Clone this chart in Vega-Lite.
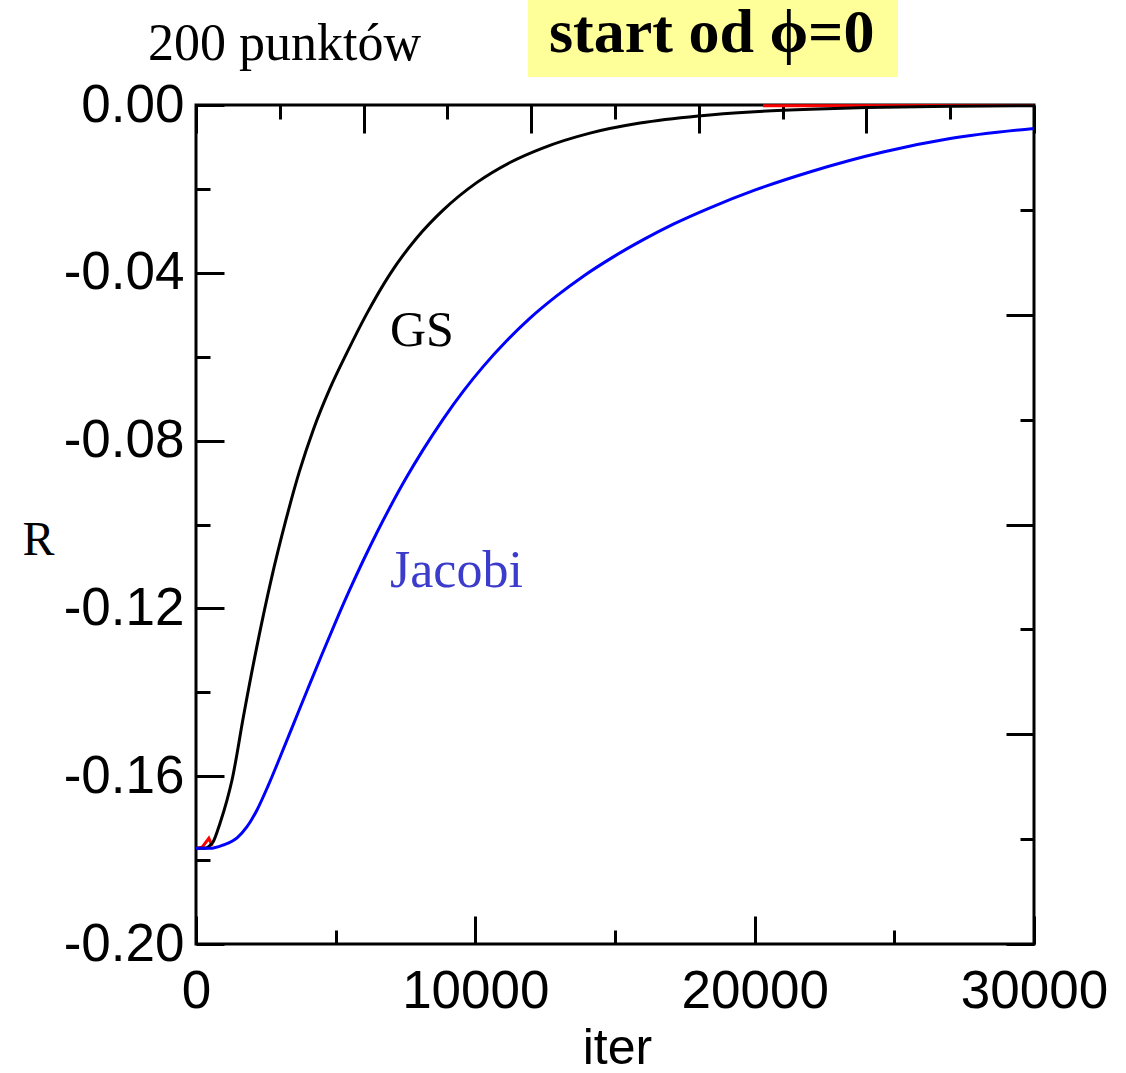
{
  "$schema": "https://vega.github.io/schema/vega-lite/v6.json",
  "width": 838,
  "height": 839,
  "autosize": {"type": "none"},
  "padding": {"left": 196, "top": 105, "right": 92, "bottom": 129},
  "background": "white",
  "config": {
    "view": {"stroke": "black", "strokeWidth": 3},
    "axis": {"grid": false, "domain": false, "tickColor": "black", "tickWidth": 3, "labelColor": "black", "titleColor": "black"}
  },
  "datasets": {
    "curves": [
      {"series": "GS", "seg": "a", "iter": 0, "R": -0.1772},
      {"series": "GS", "seg": "a", "iter": 300, "R": -0.1772},
      {"series": "GS", "seg": "a", "iter": 450, "R": -0.1768},
      {"series": "GS", "seg": "a", "iter": 610, "R": -0.1757},
      {"series": "GS", "seg": "a", "iter": 860, "R": -0.1712},
      {"series": "GS", "seg": "a", "iter": 1110, "R": -0.1657},
      {"series": "GS", "seg": "a", "iter": 1290, "R": -0.1609},
      {"series": "GS", "seg": "a", "iter": 1700, "R": -0.1457},
      {"series": "GS", "seg": "a", "iter": 2200, "R": -0.1284},
      {"series": "GS", "seg": "a", "iter": 2700, "R": -0.1129},
      {"series": "GS", "seg": "a", "iter": 3200, "R": -0.0994},
      {"series": "GS", "seg": "a", "iter": 3700, "R": -0.0874},
      {"series": "GS", "seg": "a", "iter": 4200, "R": -0.0774},
      {"series": "GS", "seg": "a", "iter": 4800, "R": -0.0675},
      {"series": "GS", "seg": "a", "iter": 5400, "R": -0.0591},
      {"series": "GS", "seg": "a", "iter": 6110, "R": -0.0498},
      {"series": "GS", "seg": "a", "iter": 6945, "R": -0.0403},
      {"series": "GS", "seg": "a", "iter": 7900, "R": -0.0317},
      {"series": "GS", "seg": "a", "iter": 8855, "R": -0.0250},
      {"series": "GS", "seg": "a", "iter": 10048, "R": -0.0185},
      {"series": "GS", "seg": "a", "iter": 11241, "R": -0.0137},
      {"series": "GS", "seg": "a", "iter": 12434, "R": -0.0102},
      {"series": "GS", "seg": "a", "iter": 14105, "R": -0.0067},
      {"series": "GS", "seg": "a", "iter": 15895, "R": -0.0043},
      {"series": "GS", "seg": "a", "iter": 17982, "R": -0.0026},
      {"series": "GS", "seg": "a", "iter": 20000, "R": -0.0016},
      {"series": "GS", "seg": "a", "iter": 22000, "R": -0.0010},
      {"series": "GS", "seg": "a", "iter": 24000, "R": -0.0006},
      {"series": "GS", "seg": "a", "iter": 27000, "R": -0.0003},
      {"series": "GS", "seg": "a", "iter": 30000, "R": -0.00015},

      {"series": "Jacobi", "seg": "a", "iter": 0, "R": -0.1772},
      {"series": "Jacobi", "seg": "a", "iter": 500, "R": -0.1772},
      {"series": "Jacobi", "seg": "a", "iter": 970, "R": -0.1764},
      {"series": "Jacobi", "seg": "a", "iter": 1470, "R": -0.1747},
      {"series": "Jacobi", "seg": "a", "iter": 1820, "R": -0.1721},
      {"series": "Jacobi", "seg": "a", "iter": 2180, "R": -0.1681},
      {"series": "Jacobi", "seg": "a", "iter": 2580, "R": -0.1623},
      {"series": "Jacobi", "seg": "a", "iter": 3000, "R": -0.1556},
      {"series": "Jacobi", "seg": "a", "iter": 3500, "R": -0.1474},
      {"series": "Jacobi", "seg": "a", "iter": 4000, "R": -0.1392},
      {"series": "Jacobi", "seg": "a", "iter": 4500, "R": -0.1311},
      {"series": "Jacobi", "seg": "a", "iter": 5000, "R": -0.1232},
      {"series": "Jacobi", "seg": "a", "iter": 5500, "R": -0.1156},
      {"series": "Jacobi", "seg": "a", "iter": 6000, "R": -0.1084},
      {"series": "Jacobi", "seg": "a", "iter": 6500, "R": -0.1016},
      {"series": "Jacobi", "seg": "a", "iter": 6945, "R": -0.0959},
      {"series": "Jacobi", "seg": "a", "iter": 7542, "R": -0.0887},
      {"series": "Jacobi", "seg": "a", "iter": 8139, "R": -0.0821},
      {"series": "Jacobi", "seg": "a", "iter": 8855, "R": -0.0748},
      {"series": "Jacobi", "seg": "a", "iter": 9571, "R": -0.0682},
      {"series": "Jacobi", "seg": "a", "iter": 10287, "R": -0.0623},
      {"series": "Jacobi", "seg": "a", "iter": 11122, "R": -0.0562},
      {"series": "Jacobi", "seg": "a", "iter": 11958, "R": -0.0508},
      {"series": "Jacobi", "seg": "a", "iter": 12912, "R": -0.0455},
      {"series": "Jacobi", "seg": "a", "iter": 13867, "R": -0.0408},
      {"series": "Jacobi", "seg": "a", "iter": 14941, "R": -0.0362},
      {"series": "Jacobi", "seg": "a", "iter": 16015, "R": -0.0321},
      {"series": "Jacobi", "seg": "a", "iter": 17089, "R": -0.0284},
      {"series": "Jacobi", "seg": "a", "iter": 18400, "R": -0.0245},
      {"series": "Jacobi", "seg": "a", "iter": 20000, "R": -0.0203},
      {"series": "Jacobi", "seg": "a", "iter": 22000, "R": -0.0159},
      {"series": "Jacobi", "seg": "a", "iter": 24600, "R": -0.0112},
      {"series": "Jacobi", "seg": "a", "iter": 27000, "R": -0.0080},
      {"series": "Jacobi", "seg": "a", "iter": 30000, "R": -0.0056},

      {"series": "ref", "seg": "a", "iter": 0, "R": -0.1772},
      {"series": "ref", "seg": "a", "iter": 220, "R": -0.1769},
      {"series": "ref", "seg": "a", "iter": 460, "R": -0.1748},
      {"series": "ref", "seg": "a", "iter": 580, "R": -0.1766},
      {"series": "ref", "seg": "b", "iter": 20300, "R": -0.0002},
      {"series": "ref", "seg": "b", "iter": 30000, "R": -0.0001}
    ]
  },
  "resolve": {"axis": {"x": "independent", "y": "independent"}},
  "layer": [
    {
      "data": {"values": [{}]},
      "mark": {"type": "rect", "fill": "#ffff99", "clip": false},
      "encoding": {
        "x": {"datum": 11886, "type": "quantitative", "scale": {"domain": [0, 30000], "nice": false, "zero": false}, "axis": null},
        "x2": {"datum": 25132},
        "y": {"datum": 0.02503, "type": "quantitative", "scale": {"domain": [-0.2, 0], "nice": false, "zero": false}, "axis": null},
        "y2": {"datum": 0.00667}
      }
    },
    {
      "data": {"name": "curves"},
      "transform": [{"filter": "datum.series == 'ref'"}],
      "mark": {"type": "line", "strokeWidth": 3, "color": "#ff0000"},
      "encoding": {
        "detail": {"field": "seg", "type": "nominal"},
        "x": {
          "field": "iter", "type": "quantitative",
          "scale": {"domain": [0, 30000], "nice": false, "zero": false},
          "axis": {
            "orient": "top", "values": [0, 3000, 6000, 9000, 12000, 15000, 18000, 21000, 24000, 27000, 30000],
            "labels": false, "title": null,
            "tickSize": {"condition": {"test": "datum.value % 6000 == 0", "value": -28}, "value": -14}
          }
        },
        "y": {
          "field": "R", "type": "quantitative",
          "scale": {"domain": [-0.2, 0], "nice": false, "zero": false},
          "axis": {
            "orient": "right", "values": [0, -0.025, -0.05, -0.075, -0.1, -0.125, -0.15, -0.175, -0.2],
            "labels": false, "title": null,
            "tickSize": {"condition": {"test": "abs(round(datum.value * 1000)) % 50 == 0", "value": -28}, "value": -14}
          }
        }
      }
    },
    {
      "data": {"name": "curves"},
      "transform": [{"filter": "datum.series != 'ref'"}],
      "mark": {"type": "line", "strokeWidth": 3, "interpolate": "monotone"},
      "encoding": {
        "color": {"field": "series", "type": "nominal", "scale": {"domain": ["GS", "Jacobi"], "range": ["#000000", "#0000ff"]}, "legend": null},
        "x": {
          "field": "iter", "type": "quantitative",
          "scale": {"domain": [0, 30000], "nice": false, "zero": false},
          "axis": {
            "orient": "bottom", "values": [0, 5000, 10000, 15000, 20000, 25000, 30000],
            "labelExpr": "datum.value % 10000 == 0 ? format(datum.value, 'd') : ''",
            "labelFont": "Liberation Sans", "labelFontSize": 53, "labelPadding": 49, "labelOverlap": false, "labelFlush": false,
            "tickSize": {"condition": {"test": "datum.value % 10000 == 0", "value": -28}, "value": -14},
            "title": "iter", "titleFont": "Liberation Sans", "titleFontSize": 50, "titleFontWeight": "normal",
            "titleX": 421, "titleY": 119, "titleBaseline": "alphabetic", "titleAlign": "center"
          }
        },
        "y": {
          "field": "R", "type": "quantitative",
          "scale": {"domain": [-0.2, 0], "nice": false, "zero": false},
          "axis": {
            "orient": "left", "values": [0, -0.02, -0.04, -0.06, -0.08, -0.1, -0.12, -0.14, -0.16, -0.18, -0.2],
            "labelExpr": "abs(round(datum.value * 100)) % 4 == 0 ? (datum.value < 0 ? '-' : '') + format(abs(datum.value), '.2f') : ''",
            "labelFont": "Liberation Sans", "labelFontSize": 53, "labelPadding": 40, "labelOverlap": false, "labelFlush": false,
            "tickSize": {"condition": {"test": "abs(round(datum.value * 100)) % 4 == 0", "value": -28}, "value": -14},
            "title": "R", "titleFont": "Liberation Serif", "titleFontSize": 48, "titleFontWeight": "normal", "titleAngle": 0,
            "titleX": -158, "titleY": 435, "titleAlign": "center", "titleBaseline": "middle"
          }
        }
      }
    },
    {
      "data": {"values": [{}]},
      "mark": {"type": "text", "font": "Liberation Serif", "fontSize": 52, "align": "left", "baseline": "alphabetic", "color": "black"},
      "encoding": {
        "x": {"datum": -1718, "type": "quantitative", "axis": null},
        "y": {"datum": 0.01073, "type": "quantitative", "axis": null},
        "text": {"value": "200 punktów"}
      }
    },
    {
      "data": {"values": [{}]},
      "mark": {"type": "text", "font": "Liberation Serif", "fontSize": 62, "fontWeight": "bold", "align": "left", "baseline": "alphabetic", "color": "black"},
      "encoding": {
        "x": {"datum": 12637, "type": "quantitative", "axis": null},
        "y": {"datum": 0.01263, "type": "quantitative", "axis": null},
        "text": {"value": "start od ϕ=0"}
      }
    },
    {
      "data": {"values": [{}]},
      "mark": {"type": "text", "font": "Liberation Serif", "fontSize": 50, "align": "left", "baseline": "alphabetic", "color": "black"},
      "encoding": {
        "x": {"datum": 6945, "type": "quantitative", "axis": null},
        "y": {"datum": -0.0574, "type": "quantitative", "axis": null},
        "text": {"value": "GS"}
      }
    },
    {
      "data": {"values": [{}]},
      "mark": {"type": "text", "font": "Liberation Serif", "fontSize": 52, "align": "left", "baseline": "alphabetic", "color": "#3c3ccc"},
      "encoding": {
        "x": {"datum": 6945, "type": "quantitative", "axis": null},
        "y": {"datum": -0.1149, "type": "quantitative", "axis": null},
        "text": {"value": "Jacobi"}
      }
    }
  ]
}
